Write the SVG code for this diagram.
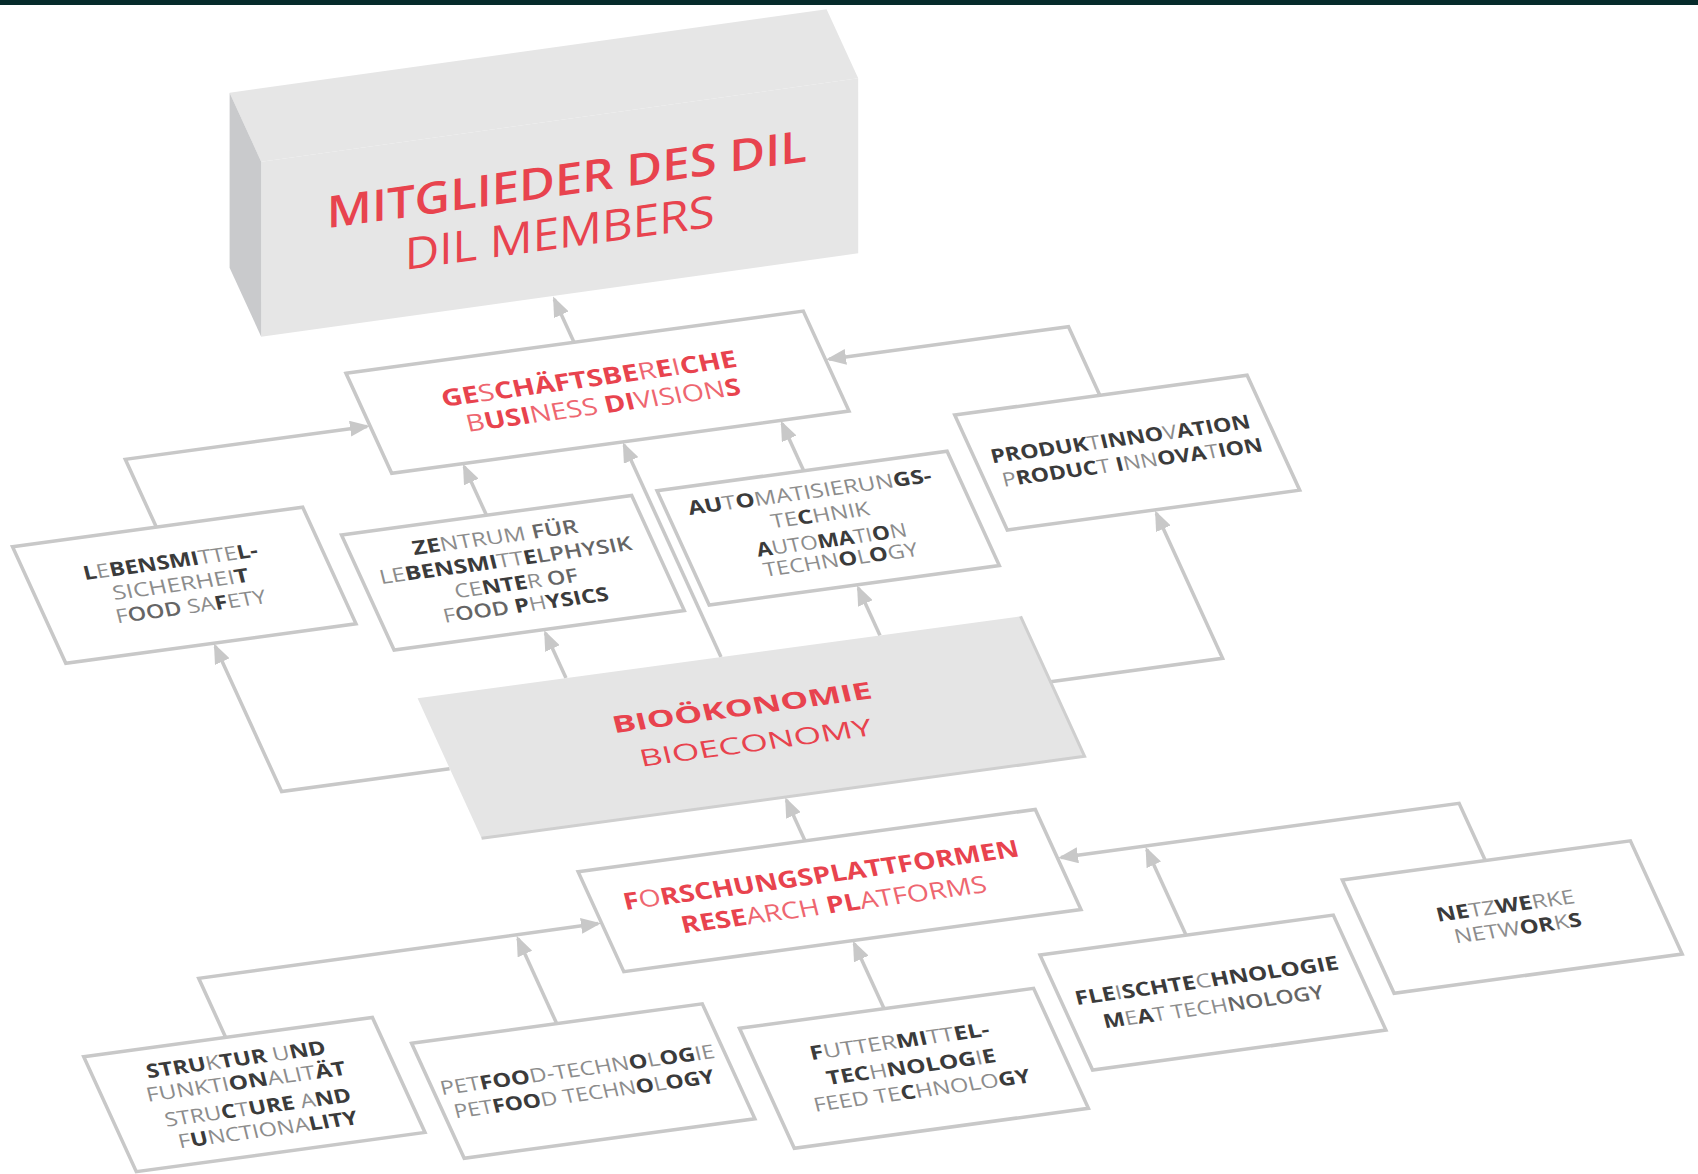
<svg xmlns="http://www.w3.org/2000/svg" width="1698" height="1174" viewBox="0 0 1698 1174">
<style>
.box{fill:#ffffff;stroke:#c8c8c8;stroke-width:3.5;stroke-linejoin:miter}
.conn{fill:none;stroke:#c8c8c8;stroke-width:3.5;marker-end:url(#arr)}
.t{font-family:"Open Sans","Liberation Sans",sans-serif;font-size:19px;text-anchor:middle}
.b{font-weight:700;fill:#3b3b3b}
.m{font-weight:600;fill:#666666}
.l{font-weight:400;fill:#8c8c8c}
.r{font-family:"Open Sans","Liberation Sans",sans-serif;font-size:23px;text-anchor:middle;fill:#e8434e}
.rb{font-weight:700;fill:#e8434e}
.rl{font-weight:400;fill:#ee6670}
</style>
<defs>
<marker id="arr" markerUnits="userSpaceOnUse" viewBox="0 0 20 16" markerWidth="20" markerHeight="16" refX="17" refY="8" orient="auto">
<path d="M0,0 L20,8 L0,16 Z" fill="#c8c8c8"/>
</marker>
</defs>
<rect x="0" y="0" width="1698" height="5" fill="#062b2b"/>

<g id="connectors">
<polyline class="conn" points="574,342.3 554.3,299.3"/>
<polyline class="conn" points="156.3,527.1 125.3,459.3 367,426.4"/>
<polyline class="conn" points="449.6,768.8 281.6,791.6 215.2,646.2"/>
<polyline class="conn" points="566,678.1 545.4,633.1"/>
<polyline class="conn" points="486.5,515.3 464.2,466.5"/>
<polyline class="conn" points="721,657 624.1,445"/>
<polyline class="conn" points="803.7,470.7 782.1,423.4"/>
<polyline class="conn" points="880,635.4 858.3,588"/>
<polyline class="conn" points="1050.5,681.7 1222.6,658.3 1156.3,513.3"/>
<polyline class="conn" points="1099.8,395.3 1068.5,326.7 829,359.2"/>
<polyline class="conn" points="805,840.8 786.4,800"/>
<polyline class="conn" points="1485.3,860.6 1459.1,803.3 1061,857.5"/>
<polyline class="conn" points="1186,935.1 1146.8,849.4"/>
<polyline class="conn" points="884,1008.6 854.2,943.5"/>
<polyline class="conn" points="225.7,1037.4 198.7,978.3 598,923.6"/>
<polyline class="conn" points="556.7,1023.6 517.9,938.6"/>
</g>

<g id="node-mitglieder">
<polygon points="229.6,92.7 826.6,9.3 858.2,78.3 261.2,161.7" fill="#e6e6e6"/>
<polygon points="261.2,161.7 858.2,78.3 858.2,253.3 261.2,336.7" fill="#e6e6e6"/>
<polygon points="229.6,92.7 261.2,161.7 261.2,336.7 229.6,267.7" fill="#c9cacc"/>
<text transform="matrix(1,-0.1397,0,1,566.8,194.8)" x="0" y="0" font-family="'Open Sans','Liberation Sans',sans-serif" font-size="44" font-weight="600" fill="#e8434e" text-anchor="middle" textLength="480" lengthAdjust="spacingAndGlyphs">MITGLIEDER DES DIL</text>
<text transform="matrix(1,-0.1397,0,1,559.7,248.3)" x="0" y="0" font-family="'Open Sans','Liberation Sans',sans-serif" font-size="44" font-weight="400" fill="#e8434e" text-anchor="middle" textLength="310" lengthAdjust="spacingAndGlyphs">DIL MEMBERS</text>
</g>

<g id="node-geschaeftsbereiche">
<polygon class="box" points="346,373.3 803.3,311.1 849,411.1 391.7,473.3"/>
<text class="r" transform="matrix(1,-0.136,0.25,1,590.9,386.7)" textLength="295" lengthAdjust="spacingAndGlyphs"><tspan class="rb">GE</tspan><tspan class="rl">S</tspan><tspan class="rb">CHÄFTSBE</tspan><tspan class="rl">R</tspan><tspan class="rb">E</tspan><tspan class="rl">I</tspan><tspan class="rb">CHE</tspan></text>
<text class="r" transform="matrix(1,-0.136,0.25,1,605.2,413.1)" textLength="274" lengthAdjust="spacingAndGlyphs"><tspan class="rl">B</tspan><tspan class="rb">USI</tspan><tspan class="rl">NESS </tspan><tspan class="rb">DI</tspan><tspan class="rl">VISION</tspan><tspan class="rb">S</tspan></text>
</g>

<g id="node-lebensmittelsicherheit">
<polygon class="box" points="12.5,546.7 302.7,507.2 356,623.8 65.8,663.3"/>
<text class="t" transform="matrix(1,-0.136,0.25,1,172,568.2)" textLength="174" lengthAdjust="spacingAndGlyphs"><tspan class="b">L</tspan><tspan class="l">E</tspan><tspan class="b">BENSMI</tspan><tspan class="l">TTE</tspan><tspan class="b">L-</tspan></text>
<text class="t" transform="matrix(1,-0.136,0.25,1,182.3,590.8)" textLength="136" lengthAdjust="spacingAndGlyphs"><tspan class="l">SICHERHEI</tspan><tspan class="b">T</tspan></text>
<text class="t" transform="matrix(1,-0.136,0.25,1,192.5,613.1)" textLength="150" lengthAdjust="spacingAndGlyphs"><tspan class="l">F</tspan><tspan class="m">OOD</tspan><tspan class="l"> SA</tspan><tspan class="b">F</tspan><tspan class="l">ETY</tspan></text>
</g>

<g id="node-zentrum">
<polygon class="box" points="341.5,535 631.7,495.5 684.3,610.5 394.1,650"/>
<text class="t" transform="matrix(1,-0.136,0.25,1,496.7,543.8)" textLength="165" lengthAdjust="spacingAndGlyphs"><tspan class="b">ZE</tspan><tspan class="l">NTRUM</tspan><tspan class="m"> FÜR</tspan></text>
<text class="t" transform="matrix(1,-0.136,0.25,1,507.2,566.9)" textLength="252" lengthAdjust="spacingAndGlyphs"><tspan class="l">LE</tspan><tspan class="b">BENSMI</tspan><tspan class="l">TT</tspan><tspan class="b">E</tspan><tspan class="m">LPHYSIK</tspan></text>
<text class="t" transform="matrix(1,-0.136,0.25,1,517.8,589.9)" textLength="123" lengthAdjust="spacingAndGlyphs"><tspan class="l">CE</tspan><tspan class="b">NTE</tspan><tspan class="l">R</tspan><tspan class="m"> OF</tspan></text>
<text class="t" transform="matrix(1,-0.136,0.25,1,527.6,611.5)" textLength="165" lengthAdjust="spacingAndGlyphs"><tspan class="l">F</tspan><tspan class="m">OOD</tspan><tspan class="b"> P</tspan><tspan class="l">H</tspan><tspan class="b">YSICS</tspan></text>
</g>

<g id="node-automatisierung">
<polygon class="box" points="657,490.7 947.1,451.2 999.3,565.5 709.2,605"/>
<text class="t" transform="matrix(1,-0.136,0.25,1,811.2,498.4)" textLength="243" lengthAdjust="spacingAndGlyphs"><tspan class="b">AU</tspan><tspan class="l">T</tspan><tspan class="b">O</tspan><tspan class="l">MATISIERUN</tspan><tspan class="b">GS-</tspan></text>
<text class="t" transform="matrix(1,-0.136,0.25,1,821.8,521.6)" textLength="98" lengthAdjust="spacingAndGlyphs"><tspan class="l">TE</tspan><tspan class="b">C</tspan><tspan class="l">HNIK</tspan></text>
<text class="t" transform="matrix(1,-0.136,0.25,1,833.2,546.5)" textLength="150" lengthAdjust="spacingAndGlyphs"><tspan class="b">A</tspan><tspan class="l">UTO</tspan><tspan class="b">MA</tspan><tspan class="l">TI</tspan><tspan class="b">O</tspan><tspan class="l">N</tspan></text>
<text class="t" transform="matrix(1,-0.136,0.25,1,842.2,566.2)" textLength="154" lengthAdjust="spacingAndGlyphs"><tspan class="l">TECHN</tspan><tspan class="b">O</tspan><tspan class="l">L</tspan><tspan class="b">O</tspan><tspan class="l">GY</tspan></text>
</g>

<g id="node-produktinnovation">
<polygon class="box" points="954.7,415 1247.1,375.2 1299.7,490.2 1007.3,530"/>
<text class="t" transform="matrix(1,-0.136,0.25,1,1122,445.7)" textLength="259" lengthAdjust="spacingAndGlyphs"><tspan class="b">PRODUK</tspan><tspan class="l">T</tspan><tspan class="b">INNO</tspan><tspan class="l">V</tspan><tspan class="b">ATION</tspan></text>
<text class="t" transform="matrix(1,-0.136,0.25,1,1134,469)" textLength="260" lengthAdjust="spacingAndGlyphs"><tspan class="l">P</tspan><tspan class="b">RODUC</tspan><tspan class="l">T </tspan><tspan class="b">I</tspan><tspan class="l">NN</tspan><tspan class="b">OVA</tspan><tspan class="l">T</tspan><tspan class="b">ION</tspan></text>
</g>

<g id="node-biooekonomie">
<polygon points="417.6,698.3 1020.6,616.3 1084.6,756.3 481.6,838.3" fill="#e5e5e5"/>
<polyline points="1020.6,616.3 1084.6,756.3 481.6,838.3" fill="none" stroke="#cfcfcf" stroke-width="3"/>
<text class="r" transform="matrix(1,-0.136,0.25,1,743.9,715.7)" font-size="28" font-weight="700" textLength="259" lengthAdjust="spacingAndGlyphs">BIOÖKONOMIE</text>
<text class="r" transform="matrix(1,-0.136,0.25,1,757.7,750.9)" font-size="28" font-weight="400" textLength="232" lengthAdjust="spacingAndGlyphs">BIOECONOMY</text>
</g>

<g id="node-forschungsplattformen">
<polygon class="box" points="578.1,871.7 1035.3,809.5 1081,909.5 623.8,971.7"/>
<text class="r" transform="matrix(1,-0.136,0.25,1,823,883.1)" textLength="395" lengthAdjust="spacingAndGlyphs"><tspan class="rb">F</tspan><tspan class="rl">O</tspan><tspan class="rb">RSCHUNGSPLATTFORMEN</tspan></text>
<text class="r" transform="matrix(1,-0.136,0.25,1,835.8,912.6)" textLength="305" lengthAdjust="spacingAndGlyphs"><tspan class="rb">RESE</tspan><tspan class="rl">ARCH </tspan><tspan class="rb">PL</tspan><tspan class="rl">ATFORMS</tspan></text>
</g>

<g id="node-netzwerke">
<polygon class="box" points="1342.3,880 1630.4,840.8 1682.2,954.1 1394.1,993.3"/>
<text class="t" transform="matrix(1,-0.136,0.25,1,1507,912.3)" textLength="138" lengthAdjust="spacingAndGlyphs"><tspan class="b">NE</tspan><tspan class="l">TZ</tspan><tspan class="b">WE</tspan><tspan class="l">RKE</tspan></text>
<text class="t" transform="matrix(1,-0.136,0.25,1,1519.5,934.7)" textLength="127" lengthAdjust="spacingAndGlyphs"><tspan class="l">NETW</tspan><tspan class="b">OR</tspan><tspan class="l">K</tspan><tspan class="b">S</tspan></text>
</g>

<g id="node-fleischtechnologie">
<polygon class="box" points="1040,955 1333.3,915.1 1385.9,1030.1 1092.6,1070"/>
<text class="t" transform="matrix(1,-0.136,0.25,1,1208.3,987.1)" textLength="263" lengthAdjust="spacingAndGlyphs"><tspan class="b">FLE</tspan><tspan class="l">I</tspan><tspan class="b">SCHTE</tspan><tspan class="l">C</tspan><tspan class="b">HNOLOGIE</tspan></text>
<text class="t" transform="matrix(1,-0.136,0.25,1,1215,1013.3)" textLength="220" lengthAdjust="spacingAndGlyphs"><tspan class="b">M</tspan><tspan class="l">E</tspan><tspan class="b">A</tspan><tspan class="l">T TECH</tspan><tspan class="m">NOLOGY</tspan></text>
</g>

<g id="node-struktur">
<polygon class="box" points="83.7,1056.7 372.4,1017.4 425,1132.4 136.3,1171.7"/>
<text class="t" transform="matrix(1,-0.136,0.25,1,237.6,1066.1)" textLength="179" lengthAdjust="spacingAndGlyphs"><tspan class="b">STRU</tspan><tspan class="l">K</tspan><tspan class="b">TUR</tspan><tspan class="l"> U</tspan><tspan class="b">ND</tspan></text>
<text class="t" transform="matrix(1,-0.136,0.25,1,247.6,1088.1)" textLength="199" lengthAdjust="spacingAndGlyphs"><tspan class="l">FUNKTI</tspan><tspan class="b">ON</tspan><tspan class="l">ALIT</tspan><tspan class="b">ÄT</tspan></text>
<text class="t" transform="matrix(1,-0.136,0.25,1,259.4,1114)" textLength="186" lengthAdjust="spacingAndGlyphs"><tspan class="l">STRU</tspan><tspan class="b">C</tspan><tspan class="l">T</tspan><tspan class="b">URE</tspan><tspan class="l"> A</tspan><tspan class="b">ND</tspan></text>
<text class="t" transform="matrix(1,-0.136,0.25,1,269.5,1136.1)" textLength="179" lengthAdjust="spacingAndGlyphs"><tspan class="l">F</tspan><tspan class="b">U</tspan><tspan class="l">NCTIONA</tspan><tspan class="b">LITY</tspan></text>
</g>

<g id="node-petfood">
<polygon class="box" points="411.6,1043.3 702.3,1003.8 754.9,1118.8 464.2,1158.3"/>
<text class="t" transform="matrix(1,-0.136,0.25,1,578.9,1076.4)" textLength="274" lengthAdjust="spacingAndGlyphs"><tspan class="l">PET</tspan><tspan class="b">FOO</tspan><tspan class="l">D-TECHN</tspan><tspan class="b">O</tspan><tspan class="l">L</tspan><tspan class="b">OG</tspan><tspan class="l">IE</tspan></text>
<text class="t" transform="matrix(1,-0.136,0.25,1,585.7,1100.6)" textLength="260" lengthAdjust="spacingAndGlyphs"><tspan class="l">PET</tspan><tspan class="b">FOO</tspan><tspan class="l">D TECHN</tspan><tspan class="b">O</tspan><tspan class="l">L</tspan><tspan class="b">OGY</tspan></text>
</g>

<g id="node-futtermittel">
<polygon class="box" points="739.5,1028.3 1033.6,988.3 1088.4,1108.3 794.3,1148.3"/>
<text class="t" transform="matrix(1,-0.136,0.25,1,901.1,1047.8)" textLength="179" lengthAdjust="spacingAndGlyphs"><tspan class="b">F</tspan><tspan class="l">UTTER</tspan><tspan class="b">MI</tspan><tspan class="l">TT</tspan><tspan class="b">EL-</tspan></text>
<text class="t" transform="matrix(1,-0.136,0.25,1,912.8,1073.5)" textLength="169" lengthAdjust="spacingAndGlyphs"><tspan class="b">TEC</tspan><tspan class="l">H</tspan><tspan class="b">NOLOG</tspan><tspan class="l">I</tspan><tspan class="b">E</tspan></text>
<text class="t" transform="matrix(1,-0.136,0.25,1,923.5,1097)" textLength="216" lengthAdjust="spacingAndGlyphs"><tspan class="l">FEED TE</tspan><tspan class="b">C</tspan><tspan class="l">HNOLO</tspan><tspan class="b">GY</tspan></text>
</g>
</svg>
